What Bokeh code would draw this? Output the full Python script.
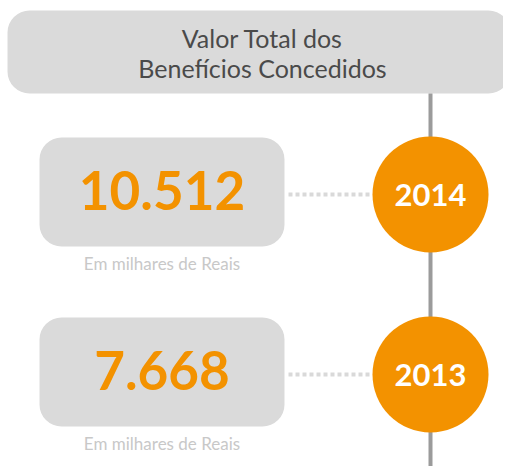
from bokeh.plotting import figure
from bokeh.models import Range1d, ColumnDataSource
from bokeh.core.properties import value
from bokeh.embed import file_html
from bokeh.resources import INLINE

# ---- data ----
title_lines = ["Valor Total dos", "Benefícios Concedidos"]
years = ["2014", "2013"]
values = ["10.512", "7.668"]
unit_label = ["Em milhares de Reais", "Em milhares de Reais"]

# ---- layout (pixel coords, y down) ----
W, H = 503, 466
row_y = [194, 374]          # circle centres
box_l, box_r = 39, 284
circle_x = 430
circle_r = 58

p = figure(width=W, height=H, output_backend="svg", toolbar_location=None,
           x_range=Range1d(0, W), y_range=Range1d(H, 0),
           min_border=0, outline_line_color=None, background_fill_color="white",
           border_fill_color="white")
p.axis.visible = False
p.xgrid.visible = False
p.ygrid.visible = False

FONT = value("Lato")

# header box
p.quad(left=7, right=510, top=10, bottom=93, fill_color="#dadada",
       line_color=None, border_radius=22)
p.text(x=[262, 262], y=[37, 67], text=title_lines, text_font=FONT,
       text_font_size="25px", text_color="#4a4a4a", text_align="center",
       text_baseline="middle")

# vertical timeline
p.segment(x0=circle_x, y0=93, x1=circle_x, y1=H, line_color="#9b9b9b", line_width=4)

src = ColumnDataSource(dict(
    y=row_y,
    top=[y - 57 for y in row_y],
    bottom=[y + 52 for y in row_y],
    vy=[y - 4 for y in row_y],
    uy=[y + 69 for y in row_y],
    year=years, val=values, unit=unit_label,
))

# value boxes
p.quad(left=box_l, right=box_r, top="top", bottom="bottom", source=src,
       fill_color="#dadada", line_color=None, border_radius=22)

# dotted connectors
p.segment(x0=box_r + 4, y0="y", x1=circle_x - circle_r, y1="y", source=src,
          line_color="#d9d9d9", line_width=4, line_dash="4 3")

# circles
p.circle(x=circle_x, y="y", radius=circle_r, source=src,
         fill_color="#f39200", line_color=None)

p.text(x=circle_x, y="y", text="year", source=src, text_font=FONT,
       text_font_style="bold", text_font_size="31px", text_color="white",
       text_align="center", text_baseline="middle")

p.text(x=(box_l + box_r) / 2, y="vy", text="val", source=src, text_font=FONT,
       text_font_style="bold", text_font_size="53px", text_color="#f39200",
       text_align="center", text_baseline="middle")

p.text(x=(box_l + box_r) / 2, y="uy", text="unit", source=src, text_font=FONT,
       text_font_size="17px", text_color="#c8c8c8",
       text_align="center", text_baseline="middle")

open("out.html", "w").write(file_html(p, INLINE))
